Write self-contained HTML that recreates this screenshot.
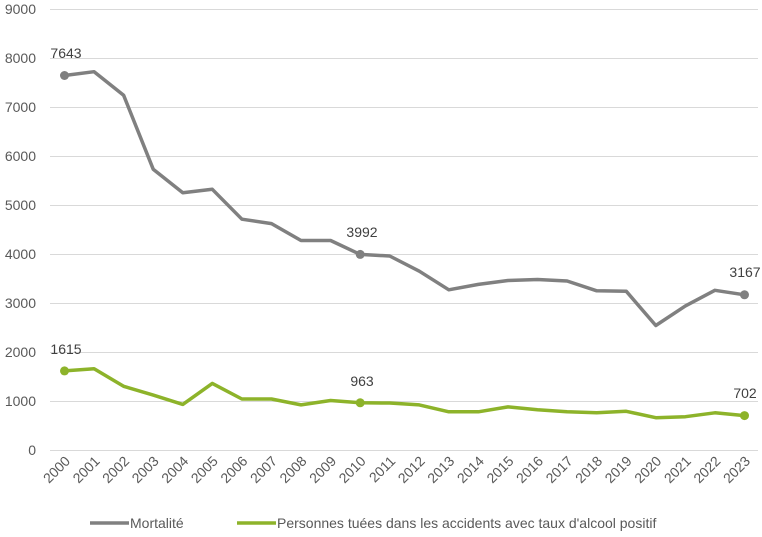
<!DOCTYPE html>
<html><head><meta charset="utf-8"><style>
html,body{margin:0;padding:0;background:#fff;}
svg{display:block;font-family:"Liberation Sans",sans-serif;}
</style></head><body>
<svg width="762" height="537" viewBox="0 0 762 537">
<g stroke="#d9d9d9" stroke-width="1">
<line x1="50" x2="758" y1="9.5" y2="9.5"/><line x1="50" x2="758" y1="58.5" y2="58.5"/>
<line x1="50" x2="758" y1="107.5" y2="107.5"/><line x1="50" x2="758" y1="156.5" y2="156.5"/>
<line x1="50" x2="758" y1="205.5" y2="205.5"/><line x1="50" x2="758" y1="254.5" y2="254.5"/>
<line x1="50" x2="758" y1="303.5" y2="303.5"/><line x1="50" x2="758" y1="352.5" y2="352.5"/>
<line x1="50" x2="758" y1="401.5" y2="401.5"/><line x1="50" x2="758" y1="450.5" y2="450.5"/>
</g>
<g fill="#595959" font-size="14" text-anchor="end">
<text x="36" y="14">9000</text><text x="36" y="63">8000</text><text x="36" y="112">7000</text>
<text x="36" y="161">6000</text><text x="36" y="210">5000</text><text x="36" y="259">4000</text>
<text x="36" y="308">3000</text><text x="36" y="357">2000</text><text x="36" y="406">1000</text>
<text x="36" y="455">0</text>
</g>
<g fill="#595959" font-size="14" text-anchor="end">
<text transform="translate(71,462) rotate(-45)">2000</text>
<text transform="translate(100.6,462) rotate(-45)">2001</text>
<text transform="translate(130.1,462) rotate(-45)">2002</text>
<text transform="translate(159.7,462) rotate(-45)">2003</text>
<text transform="translate(189.3,462) rotate(-45)">2004</text>
<text transform="translate(218.8,462) rotate(-45)">2005</text>
<text transform="translate(248.4,462) rotate(-45)">2006</text>
<text transform="translate(278,462) rotate(-45)">2007</text>
<text transform="translate(307.5,462) rotate(-45)">2008</text>
<text transform="translate(337.1,462) rotate(-45)">2009</text>
<text transform="translate(366.7,462) rotate(-45)">2010</text>
<text transform="translate(396.2,462) rotate(-45)">2011</text>
<text transform="translate(425.8,462) rotate(-45)">2012</text>
<text transform="translate(455.3,462) rotate(-45)">2013</text>
<text transform="translate(484.9,462) rotate(-45)">2014</text>
<text transform="translate(514.5,462) rotate(-45)">2015</text>
<text transform="translate(544,462) rotate(-45)">2016</text>
<text transform="translate(573.6,462) rotate(-45)">2017</text>
<text transform="translate(603.2,462) rotate(-45)">2018</text>
<text transform="translate(632.7,462) rotate(-45)">2019</text>
<text transform="translate(662.3,462) rotate(-45)">2020</text>
<text transform="translate(691.9,462) rotate(-45)">2021</text>
<text transform="translate(721.4,462) rotate(-45)">2022</text>
<text transform="translate(751,462) rotate(-45)">2023</text>
</g>
<polyline fill="none" stroke="#808080" stroke-width="3.5" stroke-linejoin="round" points="64.5,75.5 94.1,71.7 123.6,95.2 153.2,169.2 182.8,192.8 212.3,189.3 241.9,219.2 271.5,223.6 301,240.5 330.6,240.5 360.2,254.4 389.7,256 419.3,271.2 448.8,289.8 478.4,284.4 508,280.5 537.5,279.5 567.1,281 596.7,290.8 626.2,291.2 655.8,325.5 685.4,305.9 714.9,290.3 744.5,294.8"/>
<polyline fill="none" stroke="#8db32a" stroke-width="3.5" stroke-linejoin="round" points="64.5,370.9 94.1,368.7 123.6,386.3 153.2,395.1 182.8,404.4 212.3,383.4 241.9,399 271.5,399 301,404.9 330.6,400.5 360.2,402.8 389.7,403 419.3,404.9 448.8,411.8 478.4,411.8 508,406.9 537.5,409.8 567.1,411.8 596.7,412.8 626.2,411.3 655.8,417.7 685.4,416.7 714.9,412.8 744.5,415.6"/>
<g fill="#808080"><circle cx="64.5" cy="75.5" r="4.5"/><circle cx="360.2" cy="254.4" r="4.5"/><circle cx="744.5" cy="294.8" r="4.5"/></g>
<g fill="#8db32a"><circle cx="64.5" cy="370.9" r="4.5"/><circle cx="360.2" cy="402.8" r="4.5"/><circle cx="744.5" cy="415.6" r="4.5"/></g>
<g fill="#404040" font-size="14" text-anchor="middle">
<text x="66" y="58">7643</text><text x="362" y="237">3992</text><text x="745" y="277">3167</text>
<text x="66" y="354">1615</text><text x="362" y="386">963</text><text x="745" y="398">702</text>
</g>
<line x1="90" x2="129" y1="523" y2="523" stroke="#808080" stroke-width="3.5"/>
<text x="130" y="528" fill="#595959" font-size="14">Mortalité</text>
<line x1="237" x2="276" y1="523" y2="523" stroke="#8db32a" stroke-width="3.5"/>
<text x="277" y="528" fill="#595959" font-size="14">Personnes tuées dans les accidents avec taux d'alcool positif</text>
</svg>
</body></html>
